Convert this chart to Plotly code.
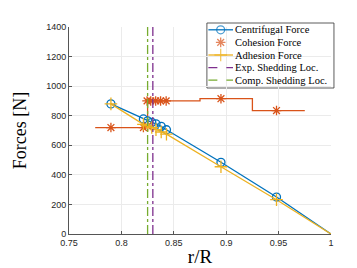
import plotly.graph_objects as go

# Data
cent_x = [0.79, 0.821, 0.825, 0.829, 0.833, 0.838, 0.843, 0.895, 0.948]
cent_y = [880, 778, 765, 755, 745, 728, 705, 485, 250]
adh_x = [0.79, 0.821, 0.825, 0.829, 0.833, 0.838, 0.843, 0.895, 0.948]
adh_y = [880, 742, 732, 720, 706, 690, 675, 455, 232]
end_x = [1.0]
end_y = [0]

coh_x = [0.79, 0.821, 0.825, 0.8245, 0.828, 0.8327, 0.8374, 0.8427, 0.895, 0.948]
coh_y = [720, 720, 730, 900, 900, 900, 900, 900, 915, 835]
stair_x = [0.775, 0.825, 0.875, 0.925, 0.975]
stair_y = [720, 900, 915, 835, 835]

exp_shed = 0.830
comp_shed = 0.825

x_ticks = [0.75, 0.8, 0.85, 0.9, 0.95, 1.0]
x_ticktext = ["0.75", "0.8", "0.85", "0.9", "0.95", "1"]
y_ticks = [0, 200, 400, 600, 800, 1000, 1200, 1400]

BLUE = "#0072BD"
ORANGE = "#D95319"
YELLOW = "#EDB120"
PURPLE = "#7E2F8E"
GREEN = "#77AC30"
SERIF = "Times New Roman, Liberation Serif, DejaVu Serif, serif"

W, H = 357, 268
L, R, T, B = 57, 34, 19, 42
PW, PH = W - L - R, H - T - B

fig = go.Figure()

# continuation lines to r/R = 1 (no markers)
fig.add_trace(go.Scatter(x=cent_x[-1:] + end_x, y=cent_y[-1:] + end_y, mode="lines",
                         line=dict(color=BLUE, width=1.3), showlegend=False, hoverinfo="skip"))
fig.add_trace(go.Scatter(x=adh_x[-1:] + end_x, y=adh_y[-1:] + end_y, mode="lines",
                         line=dict(color=YELLOW, width=1.3), showlegend=False, hoverinfo="skip"))
# cohesion stairs
fig.add_trace(go.Scatter(x=stair_x, y=stair_y, mode="lines", line_shape="hv",
                         line=dict(color=ORANGE, width=1.3), showlegend=False, hoverinfo="skip"))

fig.add_trace(go.Scatter(x=cent_x, y=cent_y, mode="lines+markers", name="Centrifugal Force",
                         line=dict(color=BLUE, width=1.3), showlegend=False,
                         marker=dict(symbol="circle-open", size=8, color=BLUE, line=dict(width=1.3))))
fig.add_trace(go.Scatter(x=coh_x, y=coh_y, mode="markers", name="Cohesion Force", showlegend=False,
                         marker=dict(symbol="asterisk-open", size=8, color=ORANGE, line=dict(width=1.3, color=ORANGE))))
fig.add_trace(go.Scatter(x=adh_x, y=adh_y, mode="lines+markers", name="Adhesion Force", showlegend=False,
                         line=dict(color=YELLOW, width=1.3),
                         marker=dict(symbol="cross-thin-open", size=9, color=YELLOW, line=dict(width=1.3, color=YELLOW))))
fig.add_trace(go.Scatter(x=[exp_shed, exp_shed], y=[0, 1400], mode="lines", name="Exp. Shedding Loc.",
                         showlegend=False, line=dict(color=PURPLE, width=1.3, dash="dashdot")))
fig.add_trace(go.Scatter(x=[comp_shed, comp_shed], y=[0, 1400], mode="lines", name="Comp. Shedding Loc.",
                         showlegend=False, line=dict(color=GREEN, width=1.3, dash="dashdot")))

# ---- custom compact legend (MATLAB style) ----
def px(xp):
    return (xp - L) / PW

def py(yp):
    return (H - B - yp) / PH

legend_items = [
    ("Centrifugal Force", BLUE, "solid", "circle-open", 8),
    ("Cohesion Force", ORANGE, None, "asterisk-open", 8),
    ("Adhesion Force", YELLOW, "solid", "cross-thin-open", 9),
    ("Exp. Shedding Loc.", PURPLE, "dash", None, 0),
    ("Comp. Shedding Loc.", GREEN, "dash", None, 0),
]
box_l, box_r, box_t, box_b = 197, 326, 15, 80
row0, row_step = 21.8, 12.6
line_l, line_r, text_l = 198.5, 223.5, 224

shapes = [dict(type="rect", xref="paper", yref="paper", x0=px(box_l), x1=px(box_r),
               y0=py(box_b), y1=py(box_t), line=dict(color="#333333", width=0.8),
               fillcolor="white", layer="between")]
annotations = []
mk_x, mk_y, mk_sym, mk_col, mk_size = [], [], [], [], []
for i, (name, col, dash, sym, size) in enumerate(legend_items):
    yy = row0 + i * row_step
    if dash:
        shapes.append(dict(type="line", xref="paper", yref="paper", x0=px(line_l), x1=px(line_r),
                           y0=py(yy), y1=py(yy), line=dict(color=col, width=1.3, dash=dash), layer="above"))
    if sym:
        mk_x.append(px((line_l + line_r) / 2))
        mk_y.append(py(yy))
        mk_sym.append(sym)
        mk_col.append(col)
        mk_size.append(size)
    annotations.append(dict(xref="paper", yref="paper", x=px(text_l), y=py(yy), text=name,
                            showarrow=False, xanchor="left", yanchor="middle",
                            font=dict(family=SERIF, size=10.5, color="#000000")))

fig.add_trace(go.Scatter(x=mk_x, y=mk_y, xaxis="x2", yaxis="y2", mode="markers", showlegend=False,
                         hoverinfo="skip", cliponaxis=False,
                         marker=dict(symbol=mk_sym, size=mk_size, color=mk_col,
                                     line=dict(width=1.3, color=mk_col))))

fig.update_layout(
    width=W, height=H,
    margin=dict(l=L, r=R, t=T, b=B),
    plot_bgcolor="white", paper_bgcolor="white",
    font=dict(family="Liberation Sans, Arial", size=9, color="#262626"),
    showlegend=False,
    shapes=shapes,
    annotations=annotations,
    xaxis2=dict(overlaying="x", range=[0, 1], visible=False, fixedrange=True),
    yaxis2=dict(overlaying="y", range=[0, 1], visible=False, fixedrange=True),
)
fig.update_layout(xaxis=dict(range=[0.75, 1.0], tickvals=x_ticks, ticktext=x_ticktext,
                             showgrid=True, gridcolor="#EBEBEB", gridwidth=1, zeroline=False,
                             showline=True, linecolor="#555555", linewidth=1, ticks="inside", ticklen=3,
                             tickcolor="#555555",
                             title=dict(text="r/R", font=dict(family=SERIF, size=19, color="#000000"), standoff=2)),
                  yaxis=dict(range=[0, 1400], tickvals=y_ticks,
                             showgrid=True, gridcolor="#EBEBEB", gridwidth=1, zeroline=False,
                             showline=True, linecolor="#555555", linewidth=1, ticks="inside", ticklen=3,
                             tickcolor="#555555",
                             title=dict(text="Forces [N]", font=dict(family=SERIF, size=18, color="#000000"),
                                        standoff=14)))

fig.write_html("out.html")
